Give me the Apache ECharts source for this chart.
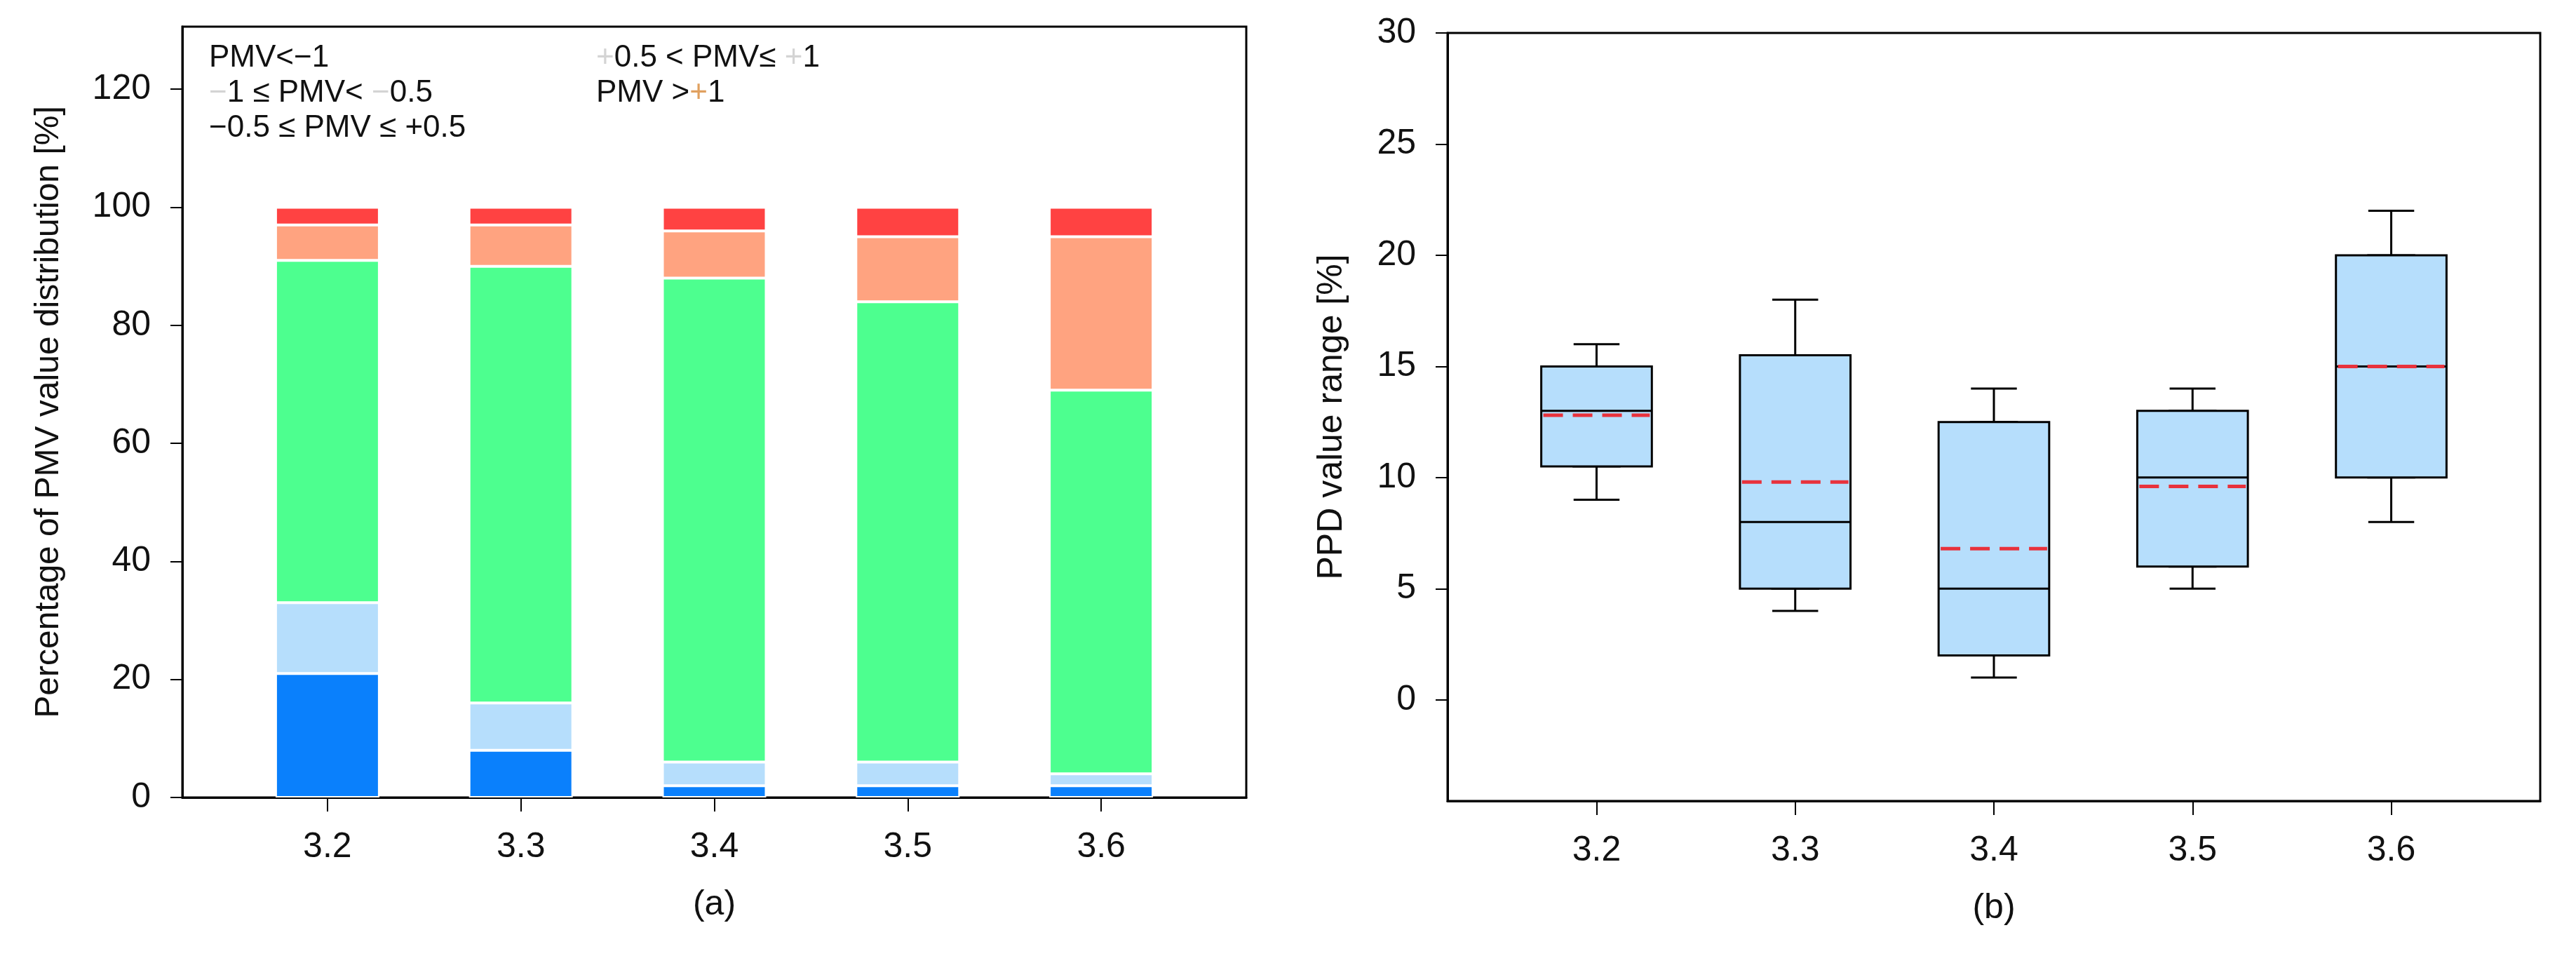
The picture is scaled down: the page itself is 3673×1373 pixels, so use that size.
<!DOCTYPE html>
<html>
<head>
<meta charset="utf-8">
<script src="https://cdn.jsdelivr.net/npm/echarts@6/dist/echarts.min.js"></script>
<style>
  html, body { margin: 0; padding: 0; background: #fff; }
  #chart { width: 3673px; height: 1373px; }
</style>
</head>
<body>
<div id="chart"></div>
<script>
// ventilation levels on the x axis of both panels
var levels = [3.2, 3.3, 3.4, 3.5, 3.6]
var levelNames = ['3.2', '3.3', '3.4', '3.5', '3.6']

// (a) share of PMV classes, in percent
var pmvBelowMinus1 = [21, 8, 2, 2, 2]
var pmvMinus1ToMinus05 = [12, 8, 4, 4, 2]
var pmvNeutral = [58, 74, 82, 78, 65]
var pmvPlus05To1 = [6, 7, 8, 11, 26]
var pmvAbovePlus1 = [3, 3, 4, 5, 5]

// (b) PPD box plot statistics
var ppdMin = [9, 4, 1, 5, 8]
var ppdQ1 = [10.5, 5, 2, 6, 10]
var ppdMedian = [13, 8, 5, 10, 15]
var ppdQ3 = [15, 15.5, 12.5, 13, 20]
var ppdMax = [16, 18, 14, 14, 22]
var ppdMean = [12.8, 9.8, 6.8, 9.6, 15]

var pctTicks = [0, 20, 40, 60, 80, 100, 120]
var ppdTicks = [0, 5, 10, 15, 20, 25, 30]

var FONT = '"Liberation Sans", Arial, Helvetica, sans-serif'
var PCT_MAX = 130.6

var legendRich = {
  '−1 ≤ PMV< −0.5': '{f|−}1 ≤ PMV< {f|−}0.5',
  '+0.5 < PMV≤ +1': '{f|+}0.5 < PMV≤ {f|+}1',
  'PMV >+1': 'PMV >{o|+}1'
}

var chart = echarts.init(document.getElementById('chart'))

function xAxisFor(gridIndex, name, show) {
  return {
    type: 'value',
    gridIndex: gridIndex,
    show: show,
    min: 3.125,
    max: 3.675,
    splitLine: { show: false },
    axisLine: { onZero: false, lineStyle: { color: '#000', width: 3 } },
    axisTick: { customValues: levels, length: 20, lineStyle: { color: '#000', width: 2 } },
    axisLabel: {
      customValues: levels,
      margin: 46,
      color: '#111',
      fontSize: 50,
      fontFamily: FONT,
      formatter: function(v) { return v.toFixed(1) }
    },
    name: name,
    nameLocation: 'middle',
    nameGap: 128,
    nameTextStyle: { color: '#111', fontSize: 50, fontFamily: FONT }
  }
}

function yAxisFor(gridIndex, name, min, max, ticks, gap, nameSize) {
  return {
    type: 'value',
    gridIndex: gridIndex,
    min: min,
    max: max,
    splitLine: { show: false },
    axisLine: { show: true, lineStyle: { color: '#000', width: 3 } },
    axisTick: { show: true, customValues: ticks, length: 17, lineStyle: { color: '#000', width: 2 } },
    axisLabel: { customValues: ticks, margin: 45, color: '#111', fontSize: 50, fontFamily: FONT },
    name: name,
    nameLocation: 'middle',
    nameGap: gap,
    nameTextStyle: { color: '#111', fontSize: nameSize, fontFamily: FONT }
  }
}

function stackBar(name, values, color) {
  return {
    name: name,
    type: 'bar',
    stack: 'pmv',
    xAxisIndex: 3,
    yAxisIndex: 2,
    barWidth: 148,
    data: values,
    itemStyle: { color: color, borderColor: '#fff', borderWidth: 2 },
    emphasis: { disabled: true }
  }
}

function legendFor(names, left) {
  return {
    data: names,
    orient: 'vertical',
    left: left,
    top: 53,
    icon: 'none',
    itemWidth: 0,
    itemHeight: 10,
    itemGap: 0,
    selectedMode: false,
    formatter: function(n) { return legendRich[n] || n },
    textStyle: {
      color: '#111',
      fontSize: 44,
      lineHeight: 50,
      fontFamily: FONT,
      rich: {
        f: { color: '#d4d4d4', fontSize: 44, lineHeight: 50, fontFamily: FONT },
        o: { color: '#e0a060', fontSize: 44, lineHeight: 50, fontFamily: FONT }
      }
    }
  }
}

chart.setOption({
  backgroundColor: '#fff',
  animation: false,
  textStyle: { fontFamily: FONT },
  grid: [
    // (a) frame and visible axes
    { left: 260, right: 1896, top: 38, bottom: 236, show: true, borderColor: '#000', borderWidth: 3 },
    // (b) frame and axes
    { left: 2064, right: 51, top: 47, bottom: 231, show: true, borderColor: '#000', borderWidth: 3 },
    // (a) bars: one band per level, inset so band centres sit on the ticks above
    { left: 329, right: 1965, top: 38, bottom: 236 }
  ],
  legend: [
    legendFor(['PMV<−1', '−1 ≤ PMV< −0.5', '−0.5 ≤ PMV ≤ +0.5'], 288),
    legendFor(['+0.5 < PMV≤ +1', 'PMV >+1'], 840)
  ],
  xAxis: [
    xAxisFor(0, '(a)', true),
    xAxisFor(1, '(b)', true),
    xAxisFor(1, '', false),
    { type: 'category', gridIndex: 2, show: false, data: levelNames }
  ],
  yAxis: [
    yAxisFor(0, 'Percentage of PMV value distribution [%]', 0, PCT_MAX, pctTicks, 166, 48),
    yAxisFor(1, 'PPD value range [%]', -4.55, 30, ppdTicks, 140, 50),
    { type: 'value', gridIndex: 2, show: false, min: 0, max: PCT_MAX, splitLine: { show: false } }
  ],
  series: [
    stackBar('PMV<−1', pmvBelowMinus1, '#0a80fc'),
    stackBar('−1 ≤ PMV< −0.5', pmvMinus1ToMinus05, '#b6defc'),
    stackBar('−0.5 ≤ PMV ≤ +0.5', pmvNeutral, '#4dff8f'),
    stackBar('+0.5 < PMV≤ +1', pmvPlus05To1, '#ffa380'),
    stackBar('PMV >+1', pmvAbovePlus1, '#ff4242'),
    {
      // whiskers with short caps, drawn under the boxes
      name: 'whiskers',
      type: 'boxplot',
      xAxisIndex: 2,
      yAxisIndex: 1,
      boxWidth: ['21%', '21%'],
      data: levels.map(function(x, i) { return [x, ppdMin[i], ppdQ1[i], ppdQ1[i], ppdQ3[i], ppdMax[i]] }),
      itemStyle: { color: '#fff', borderColor: '#000', borderWidth: 3 },
      emphasis: { disabled: true }
    },
    {
      name: 'boxes',
      type: 'boxplot',
      xAxisIndex: 1,
      yAxisIndex: 1,
      boxWidth: ['50.6%', '50.6%'],
      data: levels.map(function(x, i) { return [x, ppdQ1[i], ppdQ1[i], ppdMedian[i], ppdQ3[i], ppdQ3[i]] }),
      itemStyle: { color: '#b6defc', borderColor: '#000', borderWidth: 3 },
      emphasis: { disabled: true }
    },
    {
      name: 'mean',
      type: 'custom',
      xAxisIndex: 1,
      yAxisIndex: 1,
      z: 10,
      data: levels.map(function(x, i) { return [x, ppdMean[i]] }),
      renderItem: function(params, api) {
        var x = api.value(0)
        var p = api.coord([x, api.value(1)])
        var step = api.coord([x + 0.1, api.value(1)])[0] - p[0]
        var half = step * 0.268
        return {
          type: 'line',
          z2: 10,
          shape: { x1: p[0] - half, y1: p[1], x2: p[0] + half, y2: p[1] },
          style: { stroke: '#e8323c', lineWidth: 5, lineDash: [28, 14], fill: null }
        }
      }
    }
  ]
})
</script>
</body>
</html>
